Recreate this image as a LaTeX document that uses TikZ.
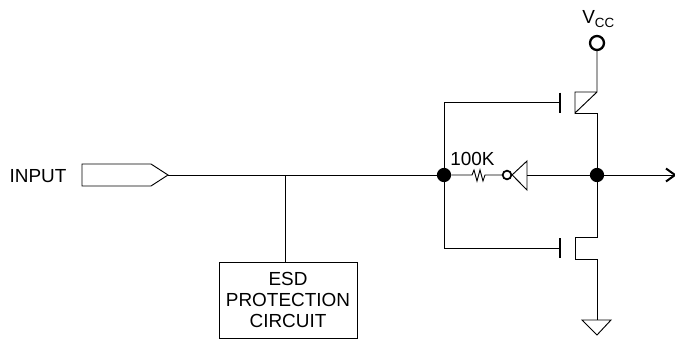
\documentclass[tikz,border=0pt]{standalone}
\usepackage{fontspec}
\setmainfont{Liberation Sans}
\usepackage{tikz}
\usetikzlibrary{calc}
\tikzstyle{wire} = [draw=black, line width=0.7pt]
\tikzstyle{heavy} = [draw=black, line width=1.5pt]
\tikzstyle{dot} = [circle, fill=black, draw=none, inner sep=0pt, minimum size=10.7pt]
\tikzstyle{bubble} = [circle, draw=black, fill=white, line width=1.3pt, inner sep=0pt, minimum size=6.5pt]
\tikzstyle{pin} = [circle, draw=black, fill=white, line width=1.7pt, inner sep=0pt, minimum size=10.5pt]
\tikzstyle{label} = [inner sep=0pt, font=\fontsize{14.2}{15.4}\selectfont, align=center]
\begin{document}
\begin{tikzpicture}[x=0.75pt, y=-0.75pt]
        \useasboundingbox (0,0) rectangle (675,339);
        \coordinate (tip) at (168,175);
        \node [label] (input) at (38,176) {INPUT};
        \node [dot] (jgate) at (444,175) {};
        \node [dot] (jout) at (597,175) {};
        \coordinate (out) at (675,175);
        \coordinate (tee) at (285,175);
        \node [wire, draw, label, minimum width=103.5pt, minimum height=57pt] (esd) at (288,300) {ESD\\PROTECTION\\CIRCUIT};
        \node [pin] (vcc) at (597,43) {};
        \node [label, anchor=base west] (vcclabel) at (582,23) {V\raisebox{-3.2pt}{\fontsize{10}{10}\selectfont CC}};
        \node [bubble] (inv) at (507,175) {};
        \node [label] (rlabel) at (472.5,159) {100K};
        % input pad
        \draw [wire] (tip) -- (151,186) -- (82,186) -- (82,164) -- (151,164) -- cycle;
        \draw [wire] (tip) -- (jgate);
        \draw [wire] (tee) -- (esd.north -| tee);
        % feedback
        \draw [wire] (jgate) -- (472,175) -- (474,170) -- (477,181) -- (480,170) -- (483,181) -- (485,175) -- (inv);
        \draw [wire] (inv) -- (512,175) -- (527,161) -- (527,190) -- cycle;
        \draw [wire] (527,175) -- (jout);
        \draw [wire] (jout) -- (out);
        \draw [heavy] (666,168.5) -- (out) -- (666,181.5);
        % upper transistor
        \draw [wire] (jgate) -- (444,102) -- (560,102);
        \draw [heavy] (560,92.5) -- (560,112.5);
        \draw [wire] (vcc) -- (597,92) -- (575,92) -- (575,113) -- (597,92);
        \draw [wire] (575,113) -- (597,113) -- (jout);
        % lower transistor
        \draw [wire] (jgate) -- (444,248) -- (560,248);
        \draw [heavy] (560,238) -- (560,258);
        \draw [wire] (jout) -- (597,237) -- (575,237) -- (575,259) -- (597,259) -- (597,320);
        \draw [wire] (582,320) -- (611,320) -- (597,335) -- cycle;
    \end{tikzpicture}
\end{document}
